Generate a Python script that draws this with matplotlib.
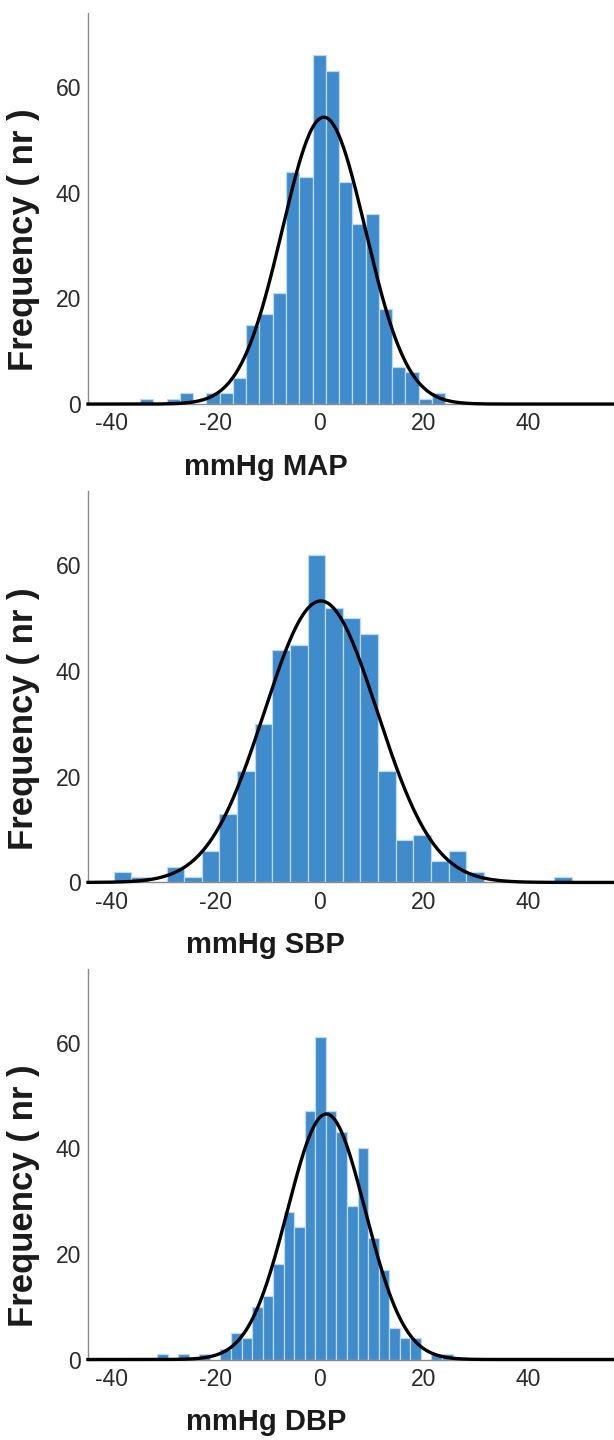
import matplotlib
matplotlib.use("Agg")
import matplotlib.pyplot as plt
import numpy as np

plt.rcParams["font.family"] = ["Liberation Sans", "DejaVu Sans"]
plt.rcParams["axes.unicode_minus"] = False

# histogram counts per bin, bins start at bin_start, equal width
map_start = -34.555
map_width = 2.55
map_counts = [1, 0, 1, 2, 0, 2, 2, 5, 15, 17, 21, 44, 43, 66, 63, 42, 34, 36, 18, 7, 6, 1, 2]

sbp_start = -39.64
sbp_width = 3.39
sbp_counts = [2, 1, 0, 3, 1, 6, 13, 21, 30, 44, 45, 62, 52, 50, 47, 21, 8, 9, 4, 6, 2, 0, 0, 0, 0, 1]

dbp_start = -31.3
dbp_width = 2.03
dbp_counts = [1, 0, 1, 0, 1, 0, 2, 5, 4, 10, 12, 18, 28, 25, 47, 61, 47, 43, 29, 40, 23, 17, 6, 4, 4, 0, 1, 1]

x_labels = ["mmHg MAP", "mmHg SBP", "mmHg DBP"]
x_ticks = [-40, -20, 0, 20, 40]
y_ticks = [0, 20, 40, 60]

xlim = (-44.6, 56.6)
ylim = (0, 74)
bar_color = "#3f8bcc"
edge_color = "#bcdaf2"
axis_color = "#8a8a8a"

panels = [
    (map_start, map_width, map_counts),
    (sbp_start, sbp_width, sbp_counts),
    (dbp_start, dbp_width, dbp_counts),
]
bottoms = [0.7194, 0.3872, 0.0559]

fig = plt.figure(figsize=(6.14, 14.4), dpi=100)

for (start, width, counts), bottom, xlabel in zip(panels, bottoms, x_labels):
    ax = fig.add_axes([0.1433, bottom, 0.8567, 0.2715])
    counts = np.array(counts, dtype=float)
    lefts = start + width * np.arange(len(counts))
    keep = counts > 0
    ax.bar(lefts[keep], counts[keep], width=width, align="edge",
           color=bar_color, edgecolor=edge_color, linewidth=0.9, zorder=2)

    # fitted normal curve from the binned data
    centers = lefts + width / 2
    n = counts.sum()
    mean = np.sum(centers * counts) / n
    sd = np.sqrt(np.sum(counts * (centers - mean) ** 2) / n)
    xs = np.linspace(xlim[0], xlim[1], 600)
    ys = n * width * np.exp(-0.5 * ((xs - mean) / sd) ** 2) / (sd * np.sqrt(2 * np.pi))
    ax.plot(xs, ys, color="black", linewidth=2.4, zorder=4, clip_on=False)

    ax.set_xlim(*xlim)
    ax.set_ylim(*ylim)
    ax.set_xticks(x_ticks)
    ax.set_yticks(y_ticks)
    ax.tick_params(length=0, labelsize=16.5, colors="#2a2a2a")
    ax.tick_params(axis="x", pad=6)
    ax.tick_params(axis="y", pad=5)
    for side in ["top", "right"]:
        ax.spines[side].set_visible(False)
    for side in ["left", "bottom"]:
        ax.spines[side].set_color(axis_color)
        ax.spines[side].set_linewidth(1.0)

    ax.text(0.338, -0.125, xlabel, transform=ax.transAxes, ha="center", va="top",
            fontsize=21, fontweight="bold", color="#1a1a1a")
    ax.text(-0.1217, 0.42, "Frequency ( nr )", transform=ax.transAxes, rotation=90,
            ha="center", va="center", fontsize=25, fontweight="bold", color="#1a1a1a")

fig.savefig("out.png", dpi=100)
